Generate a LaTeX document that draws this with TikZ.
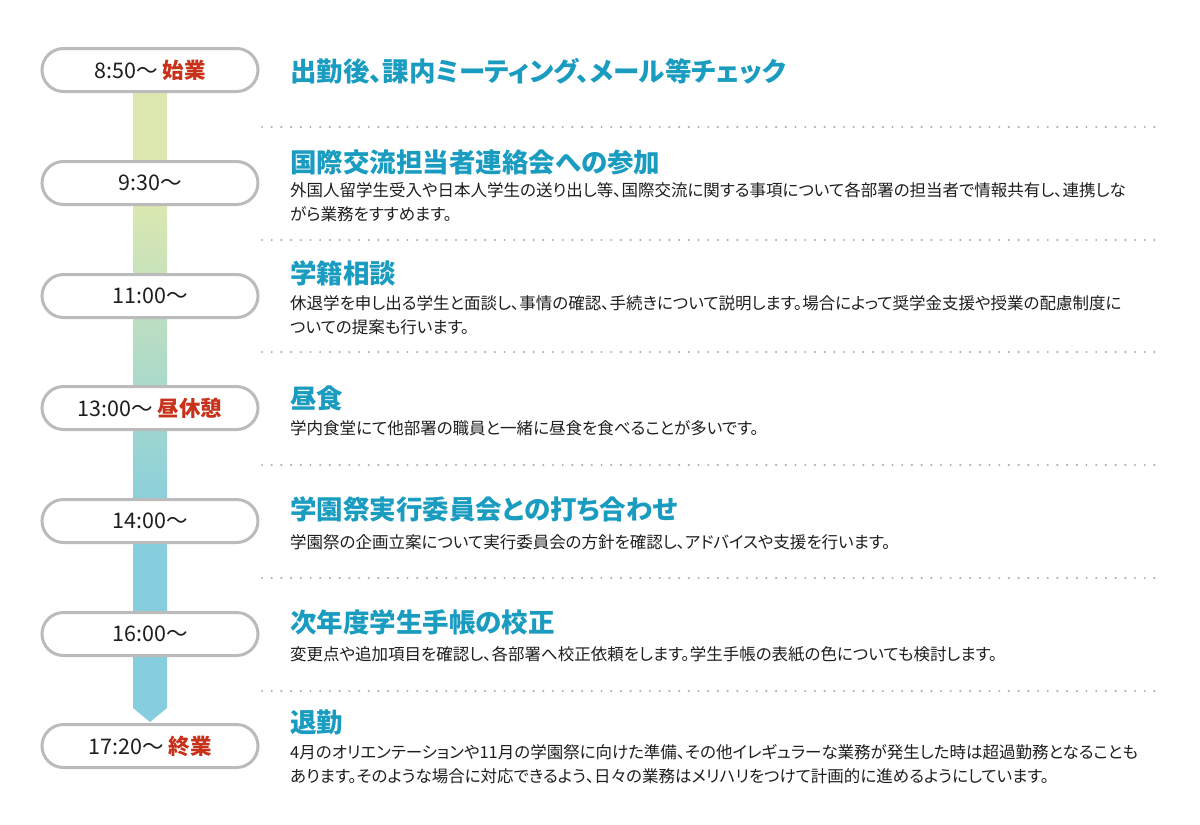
\documentclass[tikz,border=0pt]{standalone}
\usepackage{fontspec}
\setmainfont[RawFeature=+palt]{Noto Sans CJK JP}
\definecolor{pillgray}{HTML}{BBBBBB}
\definecolor{dotgray}{HTML}{B0B0B0}
\definecolor{teal}{HTML}{1A9CC0}
\definecolor{redtxt}{HTML}{C8321A}
\definecolor{barA}{HTML}{DCE8B0}
\definecolor{barB}{HTML}{86CEDE}
\definecolor{txt}{HTML}{1E1E1E}
\begin{document}
\begin{tikzpicture}[x=1pt,y=-1pt,
  pill/.style={draw=pillgray, line width=3pt, fill=white, rounded corners=21.5pt,
    minimum width=216pt, minimum height=43pt, inner sep=0pt, text=txt,
    font=\fontsize{21.5}{21.5}\selectfont},
  ttl/.style={anchor=base west, inner sep=0pt, text=teal, font=\fontsize{26.5}{26.5}\selectfont\bfseries},
  body/.style={anchor=base west, inner sep=0pt, text=txt, align=left, font=\fontsize{16.5}{24}\selectfont},
  sep/.style={dotgray, line width=2.4pt, line cap=round, dash pattern=on 0pt off 9.7pt}
]
\useasboundingbox (0,0) rectangle (1200,825);
% timeline bar
\fill[barA] (133,93) rectangle (167,200);
\shade[top color=barA, bottom color=barB] (133,199.5) rectangle (167,520.5);
\fill[barB] (133,520) -- (167,520) -- (167,708) -- (150,722) -- (133,708) -- cycle;
% pills
\node[pill] (p1) at (150,70)  {8:50～ {\color{redtxt}\bfseries 始業}};
\node[pill] (p2) at (150,183) {9:30～};
\node[pill] (p3) at (150,296) {11:00～};
\node[pill] (p4) at (150,408) {13:00～ {\color{redtxt}\bfseries 昼休憩}};
\node[pill] (p5) at (150,521) {14:00～};
\node[pill] (p6) at (150,634) {16:00～};
\node[pill] (p7) at (150,746) {17:20～ {\color{redtxt}\bfseries 終業}};
% dotted separators
\foreach \y in {127,240,352,465,578,691}{
  \draw[sep] (262,\y) -- (1160,\y);
}
% titles and bodies (body anchor = baseline of last line)
\node[ttl] (t1) at (290,81) {出勤後、課内ミーティング、メール等チェック};
\node[ttl] (t2) at (290,172) {国際交流担当者連絡会への参加};
\node[body] (b2) at (290,220.5) {外国人留学生受入や日本人学生の送り出し等、国際交流に関する事項について各部署の担当者で情報共有し、連携しな\\がら業務をすすめます。};
\node[ttl] (t3) at (290,283.5) {学籍相談};
\node[body] (b3) at (290,333) {休退学を申し出る学生と面談し、事情の確認、手続きについて説明します。場合によって奨学金支援や授業の配慮制度に\\ついての提案も行います。};
\node[ttl] (t4) at (290,408) {昼食};
\node[body] (b4) at (290,434) {学内食堂にて他部署の職員と一緒に昼食を食べることが多いです。};
\node[ttl] (t5) at (290,519) {学園祭実行委員会との打ち合わせ};
\node[body] (b5) at (290,548) {学園祭の企画立案について実行委員会の方針を確認し、アドバイスや支援を行います。};
\node[ttl] (t6) at (290,632) {次年度学生手帳の校正};
\node[body] (b6) at (290,660) {変更点や追加項目を確認し、各部署へ校正依頼をします。学生手帳の表紙の色についても検討します。};
\node[ttl] (t7) at (290,732.5) {退勤};
\node[body] (b7) at (290,782) {4月のオリエンテーションや11月の学園祭に向けた準備、その他イレギュラーな業務が発生した時は超過勤務となることも\\あります。そのような場合に対応できるよう、日々の業務はメリハリをつけて計画的に進めるようにしています。};
\end{tikzpicture}
\end{document}
